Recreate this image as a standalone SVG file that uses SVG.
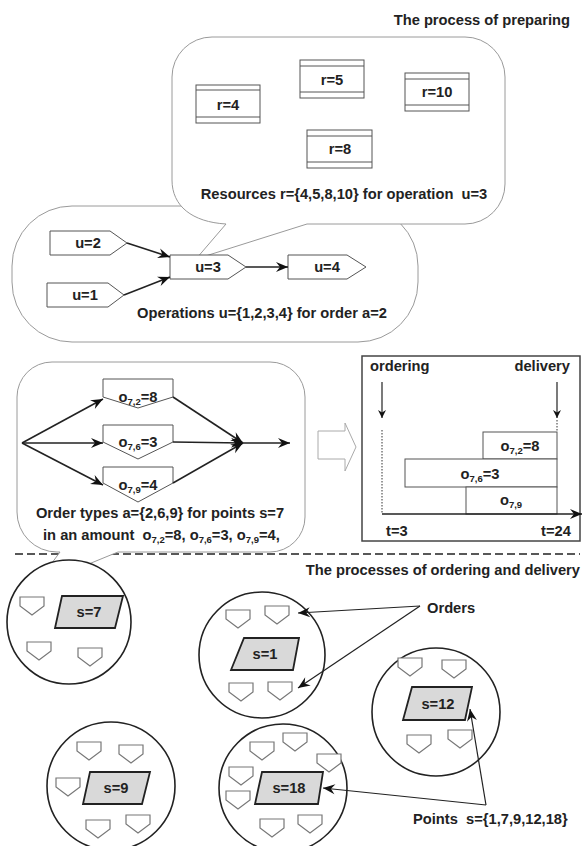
<svg xmlns="http://www.w3.org/2000/svg" xmlns:xlink="http://www.w3.org/1999/xlink" width="584" height="846" viewBox="0 0 584 846">
<style>
text{font-family:"Liberation Sans",Arial,sans-serif;font-weight:bold;font-size:14.7px;fill:#222;white-space:pre}
.mid{text-anchor:middle}
.end{text-anchor:end}
.bub{fill:#fff;stroke:#9a9a9a;stroke-width:1}
.node{fill:#fff;stroke:#555;stroke-width:1}
.ord{fill:#fff;stroke:#777;stroke-width:1.2}
.pt{fill:#d9d9d9;stroke:#222;stroke-width:1.8}
.circ{fill:#fff;stroke:#222;stroke-width:1.6}
.ln{fill:none;stroke:#222;stroke-width:1.6}
.thin{fill:none;stroke:#222;stroke-width:1.2}
.sub{font-size:9.5px}
</style>
<defs>
<marker id="ah" markerUnits="userSpaceOnUse" markerWidth="14" markerHeight="12" refX="12" refY="5" orient="auto" overflow="visible">
<path d="M0,0 L12,5 L0,10 L4,5 Z" fill="#111"/>
</marker>
<marker id="ahs" markerUnits="userSpaceOnUse" markerWidth="10" markerHeight="10" refX="8" refY="4" orient="auto" overflow="visible">
<path d="M0,0 L8,4 L0,8 L2.5,4 Z" fill="#111"/>
</marker>
<path id="o" d="M0,0 H24 V9 L12,18 L0,9 Z"/>
</defs>

<text class="end" x="570" y="25">The process of preparing</text>

<!-- operations bubble -->
<g id="ops-bubble">
<rect class="bub" x="12" y="206" width="406" height="136" rx="60" ry="60"/>
</g>
<!-- resources bubble -->
<g id="res-bubble">
<path class="bub" d="M212,37 H465 A40,40 0 0 1 505,77 V184 A40,40 0 0 1 465,224 H307 L196,259 L226,224 C192,222 172,206 172,180 V77 A40,40 0 0 1 212,37 Z"/>
<text class="mid" x="344" y="199">Resources r={4,5,8,10} for operation  u=3</text>
</g>

<g id="r4"><rect class="node" x="196" y="85" width="64" height="38"/><line class="node" x1="196" y1="90" x2="260" y2="90"/><line class="node" x1="196" y1="117" x2="260" y2="117"/><text class="mid" x="228" y="110">r=4</text></g>
<g id="r5"><rect class="node" x="300" y="60" width="64" height="38"/><line class="node" x1="300" y1="66" x2="364" y2="66"/><line class="node" x1="300" y1="92" x2="364" y2="92"/><text class="mid" x="332" y="85">r=5</text></g>
<g id="r10"><rect class="node" x="405" y="73" width="64" height="38"/><line class="node" x1="405" y1="79" x2="469" y2="79"/><line class="node" x1="405" y1="105" x2="469" y2="105"/><text class="mid" x="437" y="97">r=10</text></g>
<g id="r8"><rect class="node" x="307" y="130" width="65" height="38"/><line class="node" x1="307" y1="136" x2="372" y2="136"/><line class="node" x1="307" y1="162" x2="372" y2="162"/><text class="mid" x="340" y="154">r=8</text></g>

<g id="u2"><path class="node" d="M50,231 H110 L127,243 L110,255 H50 Z"/><text class="mid" x="88" y="248">u=2</text></g>
<g id="u1"><path class="node" d="M47,283 H108 L124,295 L108,307 H47 Z"/><text class="mid" x="85" y="300">u=1</text></g>
<g id="u3"><path class="node" d="M170,255 H228 L246,267 L228,279 H170 Z"/><text class="mid" x="208" y="272">u=3</text></g>
<g id="u4"><path class="node" d="M288,255 H347 L366,267 L347,279 H288 Z"/><text class="mid" x="327" y="272">u=4</text></g>
<text class="mid" x="262" y="318">Operations u={1,2,3,4} for order a=2</text>

<!-- dashed separator -->
<line x1="15" y1="554" x2="580" y2="554" stroke="#222" stroke-width="1.5" stroke-dasharray="8,4"/>

<!-- order bubble -->
<g id="order-bubble">
<path class="bub" d="M52,362 H270 A35,35 0 0 1 305,397 V517 A35,35 0 0 1 270,552 H118 L35,586 L60,552 H57 A40,40 0 0 1 17,512 V397 A35,35 0 0 1 52,362 Z"/>
<text class="mid" x="160" y="518">Order types a={2,6,9} for points s=7</text>
<text x="43" y="540">in an amount  o<tspan class="sub" dy="3">7,2</tspan><tspan dy="-3">=8, o</tspan><tspan class="sub" dy="3">7,6</tspan><tspan dy="-3">=3, o</tspan><tspan class="sub" dy="3">7,9</tspan><tspan dy="-3">=4,</tspan></text>
</g>
<g id="o72"><path class="node" d="M103,379 H173 V397 L138,408 L103,397 Z"/><text class="mid" x="138" y="402">o<tspan class="sub" dy="3">7,2</tspan><tspan dy="-3">=8</tspan></text></g>
<g id="o76"><path class="node" d="M103,425 H173 V442 L138,459 L103,442 Z"/><text class="mid" x="138" y="447">o<tspan class="sub" dy="3">7,6</tspan><tspan dy="-3">=3</tspan></text></g>
<g id="o79"><path class="node" d="M103,467 H173 V483 L138,502 L103,483 Z"/><text class="mid" x="138" y="490">o<tspan class="sub" dy="3">7,9</tspan><tspan dy="-3">=4</tspan></text></g>

<!-- hollow arrow -->
<g id="hollow-arrow"><path d="M318,431 H345 V423 L356,447 L345,471 V459 H318 Z" fill="#fff" stroke="#aaa" stroke-width="1"/></g>

<!-- timeline -->
<g id="timeline">
<rect x="362" y="356" width="218" height="185" fill="#fff" stroke="#444" stroke-width="1.5"/>
<text x="370" y="371">ordering</text>
<text class="end" x="570" y="371">delivery</text>
<line x1="382" y1="430" x2="382" y2="514" stroke="#333" stroke-width="1" stroke-dasharray="1.5,1.5"/>
<line x1="557" y1="420" x2="557" y2="432" stroke="#333" stroke-width="1" stroke-dasharray="1.5,1.5"/>
<rect class="node" x="483" y="432" width="74" height="27"/>
<rect class="node" x="405" y="459" width="152" height="28"/>
<rect class="node" x="466" y="487" width="91" height="27"/>
<text class="mid" x="520" y="451">o<tspan class="sub" dy="3">7,2</tspan><tspan dy="-3">=8</tspan></text>
<text class="mid" x="480" y="479">o<tspan class="sub" dy="3">7,6</tspan><tspan dy="-3">=3</tspan></text>
<text class="mid" x="511" y="505">o<tspan class="sub" dy="3">7,9</tspan></text>
<text x="386" y="536">t=3</text>
<text x="541" y="536">t=24</text>
</g>

<text class="end" x="580" y="575">The processes of ordering and delivery</text>

<!-- points -->
<g id="s7"><circle class="circ" cx="69" cy="622" r="62"/><path class="pt" d="M62,596 H123 L115,628 H55 Z"/><text class="mid" x="89" y="617">s=7</text>
<use class="ord" href="#o" x="20" y="597"/><use class="ord" href="#o" x="27" y="642"/><use class="ord" href="#o" x="78" y="648"/></g>
<g id="s1"><circle class="circ" cx="262" cy="655" r="63"/><path class="pt" d="M244,638 H299 L293,670 H231 Z"/><text class="mid" x="265" y="659">s=1</text>
<use class="ord" href="#o" x="226" y="610"/><use class="ord" href="#o" x="265" y="606"/><use class="ord" href="#o" x="229" y="683"/><use class="ord" href="#o" x="268" y="682"/></g>
<g id="s12"><circle class="circ" cx="436" cy="712" r="64"/><path class="pt" d="M412,687 H472 L465,720 H403 Z"/><text class="mid" x="438" y="709">s=12</text>
<use class="ord" href="#o" x="398" y="658"/><use class="ord" href="#o" x="442" y="660"/><use class="ord" href="#o" x="407" y="735"/><use class="ord" href="#o" x="448" y="730"/></g>
<g id="s9"><circle class="circ" cx="111" cy="786" r="64"/><path class="pt" d="M90,772 H150 L142,804 H83 Z"/><text class="mid" x="116" y="793">s=9</text>
<use class="ord" href="#o" x="77" y="742"/><use class="ord" href="#o" x="119" y="745"/><use class="ord" href="#o" x="56" y="778"/><use class="ord" href="#o" x="86" y="820"/><use class="ord" href="#o" x="126" y="815"/></g>
<g id="s18"><circle class="circ" cx="283" cy="788" r="64"/><path class="pt" d="M262,772 H323 L318,804 H255 Z"/><text class="mid" x="289" y="793">s=18</text>
<use class="ord" href="#o" x="250" y="742"/><use class="ord" href="#o" x="283" y="733"/><use class="ord" href="#o" x="317" y="754"/><use class="ord" href="#o" x="229" y="767"/><use class="ord" href="#o" x="226" y="791"/><use class="ord" href="#o" x="260" y="819"/><use class="ord" href="#o" x="298" y="815"/></g>

<text x="427" y="613">Orders</text>
<text x="413" y="824">Points  s={1,7,9,12,18}</text>

<!-- connectors -->
<g id="connectors">
<line class="ln" x1="127" y1="243" x2="170" y2="257" marker-end="url(#ah)"/>
<line class="ln" x1="124" y1="295" x2="170" y2="277" marker-end="url(#ah)"/>
<line class="ln" x1="246" y1="267" x2="288" y2="267" marker-end="url(#ah)"/>
<line class="ln" x1="22" y1="443" x2="103" y2="399" marker-end="url(#ah)"/>
<line class="ln" x1="22" y1="443" x2="103" y2="443" marker-end="url(#ah)"/>
<line class="ln" x1="22" y1="443" x2="103" y2="485" marker-end="url(#ah)"/>
<line class="ln" x1="173" y1="397" x2="243" y2="443" marker-end="url(#ah)"/>
<line class="ln" x1="173" y1="442" x2="243" y2="443" marker-end="url(#ah)"/>
<line class="ln" x1="173" y1="483" x2="243" y2="443" marker-end="url(#ah)"/>
<line class="ln" x1="243" y1="443" x2="290" y2="443" marker-end="url(#ah)"/>
<line class="thin" x1="382" y1="382" x2="382" y2="418" marker-end="url(#ahs)"/>
<line class="thin" x1="557" y1="382" x2="557" y2="418" marker-end="url(#ahs)"/>
<line class="ln" x1="382" y1="514" x2="582" y2="514" marker-end="url(#ah)"/>
<line class="thin" x1="420" y1="606" x2="298" y2="613" marker-end="url(#ah)"/>
<line class="thin" x1="420" y1="606" x2="298" y2="688" marker-end="url(#ah)"/>
<line class="thin" x1="486" y1="805" x2="470" y2="709" marker-end="url(#ah)"/>
<line class="thin" x1="486" y1="805" x2="323" y2="788" marker-end="url(#ah)"/>
</g>
</svg>
